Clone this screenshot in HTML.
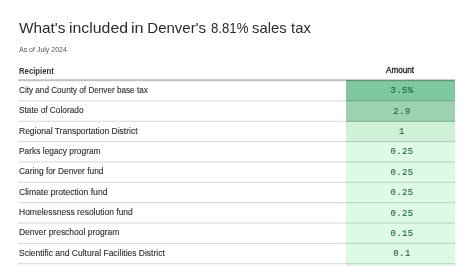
<!DOCTYPE html>
<html><head><meta charset="utf-8">
<style>
html,body{margin:0;padding:0;background:#fff;width:474px;height:266px;overflow:hidden;}
body{position:relative;font-family:"Liberation Sans",sans-serif;color:#333;}
.s{position:absolute;left:19px;top:45.2px;font-size:7px;line-height:10px;color:#555;white-space:nowrap;}
.h{position:absolute;top:65px;font-size:8px;line-height:12px;font-weight:bold;color:#333;white-space:nowrap;}
.a{position:absolute;left:346px;width:109px;height:20.35px;}
.v{position:absolute;left:347.5px;width:109px;text-align:center;font-family:"Liberation Mono",monospace;font-size:9px;letter-spacing:0.4px;line-height:12px;color:#1f663c;-webkit-text-stroke:0.1px #1f663c;}
svg{position:absolute;left:0;top:0;}
#wrap{position:absolute;left:0;top:0;width:474px;height:266px;will-change:transform;}
</style></head><body><div id="wrap">

<div style="position:absolute;left:19.20px;top:19.00px;white-space:nowrap;transform-origin:0 0;transform:scaleX(1.0244);font-family:'Liberation Sans',sans-serif;font-size:15px;line-height:18px;color:#2b2b2b">What's</div>
<div style="position:absolute;left:69.04px;top:19.00px;white-space:nowrap;transform-origin:0 0;transform:scaleX(1.0574);font-family:'Liberation Sans',sans-serif;font-size:15px;line-height:18px;color:#2b2b2b">included</div>
<div style="position:absolute;left:131.12px;top:19.00px;white-space:nowrap;transform-origin:0 0;transform:scaleX(1.0800);font-family:'Liberation Sans',sans-serif;font-size:15px;line-height:18px;color:#2b2b2b">in</div>
<div style="position:absolute;left:147.30px;top:19.00px;white-space:nowrap;transform-origin:0 0;transform:scaleX(1.0000);font-family:'Liberation Sans',sans-serif;font-size:15px;line-height:18px;color:#2b2b2b">Denver's</div>
<div style="position:absolute;left:211.00px;top:19.00px;white-space:nowrap;transform-origin:0 0;transform:scaleX(0.8810);font-family:'Liberation Sans',sans-serif;font-size:15px;line-height:18px;color:#2b2b2b">8.81%</div>
<div style="position:absolute;left:252.20px;top:19.00px;white-space:nowrap;transform-origin:0 0;transform:scaleX(0.9886);font-family:'Liberation Sans',sans-serif;font-size:15px;line-height:18px;color:#2b2b2b">sales</div>
<div style="position:absolute;left:291.00px;top:19.00px;white-space:nowrap;transform-origin:0 0;transform:scaleX(0.9900);font-family:'Liberation Sans',sans-serif;font-size:15px;line-height:18px;color:#2b2b2b">tax</div>
<div class="s">As of July 2024</div>
<div style="position:absolute;left:19.10px;top:64.60px;white-space:nowrap;transform-origin:0 0;transform:scaleX(0.9324);font-family:'Liberation Sans',sans-serif;font-size:8.3px;line-height:12px;font-weight:bold;color:#333">Recipient</div>
<div style="position:absolute;left:385.80px;top:64.30px;white-space:nowrap;transform-origin:0 0;transform:scaleX(0.9567);font-family:'Liberation Sans',sans-serif;font-size:8.5px;line-height:12px;color:#1e1e1e;-webkit-text-stroke:0.3px #1e1e1e">Amount</div>
<div class="a" style="top:80px;height:21.35px;background:#7fc8a1"></div>
<div class="a" style="top:101.35px;background:#9dd2b0"></div>
<div class="a" style="top:121.70px;background:#cef1d8"></div>
<div class="a" style="top:142.05px;background:#def9e6"></div>
<div class="a" style="top:162.40px;background:#def9e6"></div>
<div class="a" style="top:182.75px;background:#def9e6"></div>
<div class="a" style="top:203.10px;background:#def9e6"></div>
<div class="a" style="top:223.45px;background:#def9e6"></div>
<div class="a" style="top:243.80px;background:#def9e6"></div>
<div class="a" style="top:264.15px;background:#def9e6"></div>
<div style="position:absolute;left:19.10px;top:83.80px;white-space:nowrap;transform-origin:0 0;transform:scaleX(0.9493);font-family:'Liberation Sans',sans-serif;font-size:8.6px;line-height:12px;color:#2e2e2e;-webkit-text-stroke:0.12px #2e2e2e">City and County of Denver base tax</div>
<div class="v" style="top:85.40px">3.5%</div>
<div style="position:absolute;left:19.10px;top:104.16px;white-space:nowrap;transform-origin:0 0;transform:scaleX(0.9642);font-family:'Liberation Sans',sans-serif;font-size:8.6px;line-height:12px;color:#2e2e2e;-webkit-text-stroke:0.12px #2e2e2e">State of Colorado</div>
<div class="v" style="top:105.75px">2.9</div>
<div style="position:absolute;left:19.10px;top:124.52px;white-space:nowrap;transform-origin:0 0;transform:scaleX(0.9883);font-family:'Liberation Sans',sans-serif;font-size:8.6px;line-height:12px;color:#2e2e2e;-webkit-text-stroke:0.12px #2e2e2e">Regional Transportation District</div>
<div class="v" style="top:126.10px">1</div>
<div style="position:absolute;left:19.10px;top:144.88px;white-space:nowrap;transform-origin:0 0;transform:scaleX(0.9759);font-family:'Liberation Sans',sans-serif;font-size:8.6px;line-height:12px;color:#2e2e2e;-webkit-text-stroke:0.12px #2e2e2e">Parks legacy program</div>
<div class="v" style="top:146.45px">0.25</div>
<div style="position:absolute;left:19.10px;top:165.24px;white-space:nowrap;transform-origin:0 0;transform:scaleX(0.9713);font-family:'Liberation Sans',sans-serif;font-size:8.6px;line-height:12px;color:#2e2e2e;-webkit-text-stroke:0.12px #2e2e2e">Caring for Denver fund</div>
<div class="v" style="top:166.80px">0.25</div>
<div style="position:absolute;left:19.10px;top:185.60px;white-space:nowrap;transform-origin:0 0;transform:scaleX(1.0011);font-family:'Liberation Sans',sans-serif;font-size:8.6px;line-height:12px;color:#2e2e2e;-webkit-text-stroke:0.12px #2e2e2e">Climate protection fund</div>
<div class="v" style="top:187.15px">0.25</div>
<div style="position:absolute;left:19.10px;top:205.96px;white-space:nowrap;transform-origin:0 0;transform:scaleX(0.9887);font-family:'Liberation Sans',sans-serif;font-size:8.6px;line-height:12px;color:#2e2e2e;-webkit-text-stroke:0.12px #2e2e2e">Homelessness resolution fund</div>
<div class="v" style="top:207.50px">0.25</div>
<div style="position:absolute;left:19.10px;top:226.32px;white-space:nowrap;transform-origin:0 0;transform:scaleX(0.9851);font-family:'Liberation Sans',sans-serif;font-size:8.6px;line-height:12px;color:#2e2e2e;-webkit-text-stroke:0.12px #2e2e2e">Denver preschool program</div>
<div class="v" style="top:227.85px">0.15</div>
<div style="position:absolute;left:19.10px;top:246.68px;white-space:nowrap;transform-origin:0 0;transform:scaleX(0.9878);font-family:'Liberation Sans',sans-serif;font-size:8.6px;line-height:12px;color:#2e2e2e;-webkit-text-stroke:0.12px #2e2e2e">Scientific and Cultural Facilities District</div>
<div class="v" style="top:248.20px">0.1</div>
<svg width="474" height="266" viewBox="0 0 474 266"><rect x="18" y="79.2" width="437" height="2" fill="rgba(0,0,0,0.24)"/><rect x="18" y="100.40" width="437" height="1" fill="rgba(0,0,0,0.16)"/><rect x="18" y="120.75" width="437" height="1" fill="rgba(0,0,0,0.16)"/><rect x="18" y="141.10" width="437" height="1" fill="rgba(0,0,0,0.16)"/><rect x="18" y="161.45" width="437" height="1" fill="rgba(0,0,0,0.16)"/><rect x="18" y="181.80" width="437" height="1" fill="rgba(0,0,0,0.16)"/><rect x="18" y="202.15" width="437" height="1" fill="rgba(0,0,0,0.16)"/><rect x="18" y="222.50" width="437" height="1" fill="rgba(0,0,0,0.16)"/><rect x="18" y="242.85" width="437" height="1" fill="rgba(0,0,0,0.16)"/><rect x="18" y="263.20" width="437" height="1" fill="rgba(0,0,0,0.16)"/></svg>
</div></body></html>
